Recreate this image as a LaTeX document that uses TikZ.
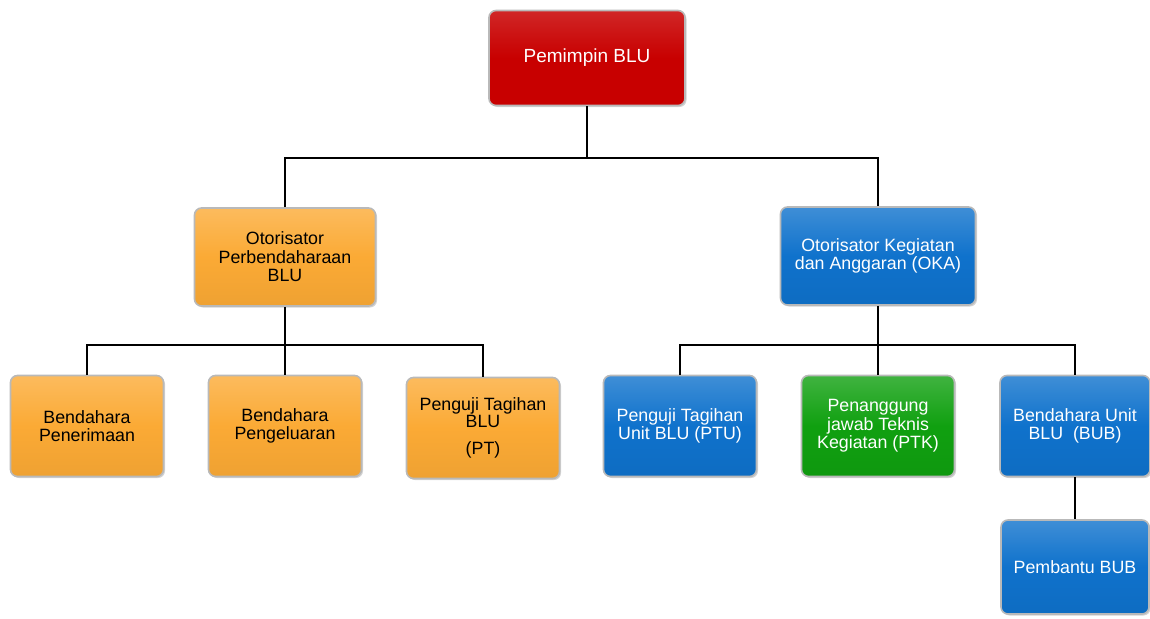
\documentclass[tikz,border=0pt]{standalone}
\usepackage{fontspec}
\setmainfont{Liberation Sans}
\usetikzlibrary{shadows}
\definecolor{redbox}{HTML}{C80000}
\definecolor{orangebox}{HTML}{FBAA35}
\definecolor{bluebox}{HTML}{0F72CC}
\definecolor{greenbox}{HTML}{10A010}
\begin{document}
\begin{tikzpicture}[x=1pt,y=-1pt,
  box/.style={rounded corners=7pt, draw=gray!55, line width=1.6pt,
    align=center, inner sep=2pt, font=\fontsize{17.8}{18.5}\selectfont,
    drop shadow={shadow xshift=1.5pt, shadow yshift=-1.5pt, opacity=0.35}},
  redb/.style={box, top color=redbox!85!white, bottom color=redbox, middle color=redbox, text=white},
  orangeb/.style={box, top color=orangebox!80!white, bottom color=orangebox!95!black, middle color=orangebox, text=black},
  blueb/.style={box, top color=bluebox!80!white, bottom color=bluebox!95!black, middle color=bluebox, text=white},
  greenb/.style={box, top color=greenbox!80!white, bottom color=greenbox!95!black, middle color=greenbox, text=white},
  lowbox/.style={minimum width=153pt, minimum height=101pt},
  link/.style={line width=2.8pt, black}]
\useasboundingbox (0,0) rectangle (1150,618);

% junction points of the tree
\coordinate (topbar) at (587,158);
\coordinate (lbar) at (285,345);
\coordinate (rbar) at (878,345);

% boxes
\node[redb, minimum width=196pt, minimum height=95pt, font=\fontsize{19}{22}\selectfont] (pem) at (587,58) {Pemimpin BLU};
\node[orangeb, minimum width=181pt, minimum height=98pt] (op) at (285,257) {Otorisator\\Perbendaharaan\\BLU};
\node[blueb, minimum width=195pt, minimum height=98pt] (oka) at (878,256) {Otorisator Kegiatan\\dan Anggaran (OKA)};

\node[orangeb, lowbox] (bpen) at (87,426) {Bendahara\\Penerimaan};
\node[orangeb, lowbox] (bpeng) at (285,426) {Bendahara\\Pengeluaran};
\node[orangeb, lowbox, font=\fontsize{17.8}{16.5}\selectfont] (pt) at (483,428) {Penguji Tagihan\\BLU\\[11pt](PT)};
\node[blueb, lowbox] (ptu) at (680,426) {Penguji Tagihan\\Unit BLU (PTU)};
\node[greenb, lowbox] (ptk) at (878,426) {Penanggung\\jawab Teknis\\Kegiatan (PTK)};
\node[blueb, minimum width=150pt, minimum height=101pt] (bub) at (1075,426) {Bendahara Unit\\BLU\ \ (BUB)};
\node[blueb, minimum width=148pt, minimum height=94pt] (pbub) at (1075,567) {Pembantu BUB};

% tree connectors
\draw[link] (pem.south) -- (topbar);
\draw[link] (op.north) |- (topbar) -| (oka.north);
\draw[link] (op.south) -- (lbar);
\draw[link] (bpen.north) |- (lbar) -| (pt.north);
\draw[link] (lbar) -- (bpeng.north);
\draw[link] (oka.south) -- (rbar);
\draw[link] (ptu.north) |- (rbar) -| (bub.north);
\draw[link] (rbar) -- (ptk.north);
\draw[link] (bub.south) -- (pbub.north);
\end{tikzpicture}
\end{document}
